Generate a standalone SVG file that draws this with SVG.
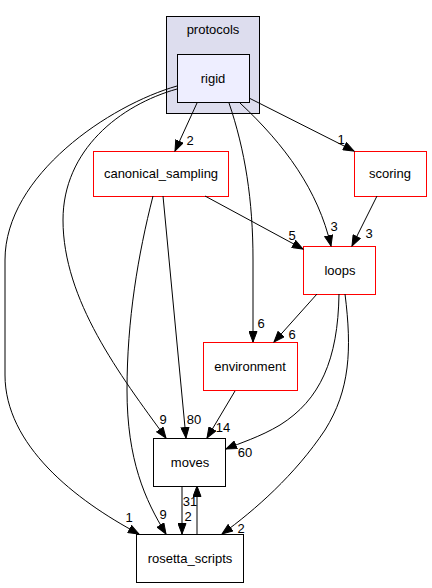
<svg xmlns="http://www.w3.org/2000/svg" width="432" height="588" viewBox="0 0 432 588">
<style>
text{font-family:"Liberation Sans",Arial,sans-serif;font-size:13px;fill:#000}
.n text{text-anchor:middle}
.box{fill:#fff;stroke:#000;stroke-width:1}
.red{fill:#fff;stroke:#ff0000;stroke-width:1}
.e path{fill:none;stroke:#000;stroke-width:1;marker-end:url(#ah)}
.lbl{text-anchor:middle}
</style>
<defs>
<marker id="ah" markerUnits="userSpaceOnUse" markerWidth="12" markerHeight="9" refX="11" refY="4.5" orient="auto">
<path d="M0.5,0.5 L11,4.5 L0.5,8.5 z" fill="#000" stroke="#000" stroke-width="1"/>
</marker>
</defs>
<rect width="432" height="588" fill="#fff"/>
<g id="cluster_protocols" class="n">
<rect x="166.5" y="16.5" width="93" height="97" fill="#ddddee" stroke="#000"/>
<text x="213" y="34">protocols</text>
</g>
<g id="node_rigid" class="n">
<rect x="177.5" y="54.5" width="72" height="48" fill="#eeeeff" stroke="#000"/>
<text x="213" y="83">rigid</text>
</g>
<g id="node_canonical_sampling" class="n">
<rect x="93.5" y="151.5" width="135" height="45" class="red"/>
<text x="161" y="178">canonical_sampling</text>
</g>
<g id="node_scoring" class="n">
<rect x="354.5" y="151.5" width="72" height="45" class="red"/>
<text x="390" y="178">scoring</text>
</g>
<g id="node_loops" class="n">
<rect x="303.5" y="246.5" width="72" height="48" class="red"/>
<text x="340" y="275">loops</text>
</g>
<g id="node_environment" class="n">
<rect x="203.5" y="342.5" width="94" height="48" class="red"/>
<text x="250" y="371">environment</text>
</g>
<g id="node_moves" class="n">
<rect x="153.5" y="438.5" width="72" height="48" class="box"/>
<text x="190" y="467">moves</text>
</g>
<g id="node_rosetta_scripts" class="n">
<rect x="136.5" y="534.5" width="107" height="48" class="box"/>
<text x="190" y="563">rosetta_scripts</text>
</g>
<g id="edges" class="e">
<path d="M197,103 L175,151"/>
<path d="M249,98 L354,151"/>
<path d="M229,103 C245,150 253,200 253,260 L253,342"/>
<path d="M240,103 C285,145 318,190 331,246"/>
<path d="M377,196 L352,246"/>
<path d="M205,196 L303,249"/>
<path d="M317,294 L274,342"/>
<path d="M339,294 C338,360 320,400 280,425 C260,437 240,443 226,449"/>
<path d="M345,294 C352,350 350,390 325,430 C295,475 255,510 222,534"/>
<path d="M235,391 L207,438"/>
<path d="M163,196 L186,438"/>
<path d="M153,196 C138,255 127,320 127,390 C127,460 145,500 166,534"/>
<path d="M177,89 C120,105 63,150 63,220 C63,300 120,375 166,438"/>
<path d="M177,86 C110,105 5,175 5,260 L5,375 C5,445 75,500 139,534"/>
<path d="M182,486 L182,534"/>
<path d="M197,534 L197,486"/>
</g>
<g id="edge_labels" class="lbl">
<text x="190" y="145">2</text>
<text x="341" y="144">1</text>
<text x="261" y="328">6</text>
<text x="334" y="231">3</text>
<text x="369" y="238">3</text>
<text x="292" y="240">5</text>
<text x="292" y="339">6</text>
<text x="245" y="457">60</text>
<text x="241" y="533">2</text>
<text x="223" y="432">14</text>
<text x="194" y="424">80</text>
<text x="163" y="519">9</text>
<text x="163" y="424">9</text>
<text x="129" y="522">1</text>
<text x="188" y="521">2</text>
<text x="190" y="506">31</text>
</g>
</svg>
